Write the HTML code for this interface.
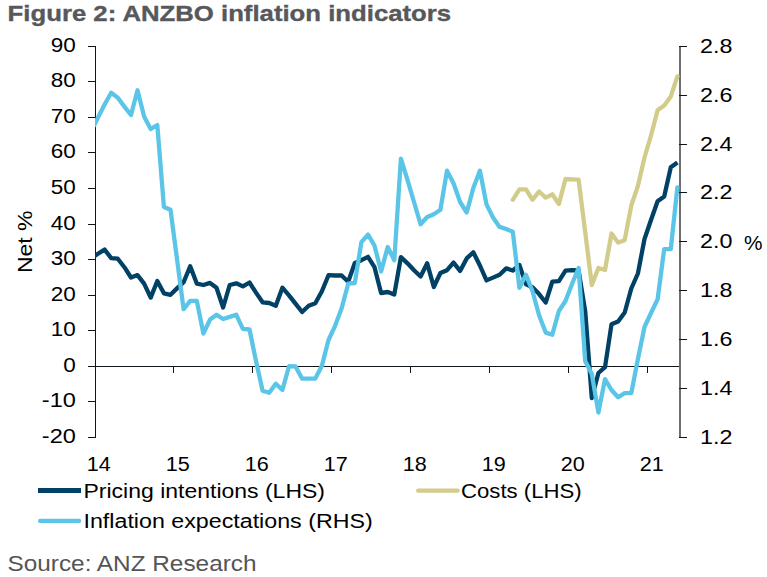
<!DOCTYPE html>
<html><head><meta charset="utf-8"><style>
html,body{margin:0;padding:0;background:#fff;width:767px;height:577px;overflow:hidden}
svg{display:block}
.t{font-family:"Liberation Sans",sans-serif;font-size:20px;fill:#000}
.src{font-family:"Liberation Sans",sans-serif;font-size:21.5px;fill:#555}
.title{font-family:"Liberation Sans",sans-serif;font-size:22px;font-weight:bold;fill:#56585b;stroke:#56585b;stroke-width:0.35px}
</style></head><body>
<svg width="767" height="577" viewBox="0 0 767 577">
<defs><clipPath id="plot"><rect x="95" y="0" width="600" height="577"/></clipPath></defs>
<rect x="95" y="46" width="1" height="392" fill="#0e161c"/>
<rect x="88" y="46" width="8" height="1" fill="#0e161c"/>
<rect x="88" y="81" width="8" height="1" fill="#0e161c"/>
<rect x="88" y="117" width="8" height="1" fill="#0e161c"/>
<rect x="88" y="152" width="8" height="1" fill="#0e161c"/>
<rect x="88" y="188" width="8" height="1" fill="#0e161c"/>
<rect x="88" y="224" width="8" height="1" fill="#0e161c"/>
<rect x="88" y="259" width="8" height="1" fill="#0e161c"/>
<rect x="88" y="295" width="8" height="1" fill="#0e161c"/>
<rect x="88" y="330" width="8" height="1" fill="#0e161c"/>
<rect x="88" y="366" width="8" height="1" fill="#0e161c"/>
<rect x="88" y="401" width="8" height="1" fill="#0e161c"/>
<rect x="88" y="437" width="8" height="1" fill="#0e161c"/>
<rect x="88" y="366" width="591" height="1" fill="#0e161c"/>
<rect x="173" y="366" width="1" height="7" fill="#0e161c"/>
<rect x="252" y="366" width="1" height="7" fill="#0e161c"/>
<rect x="331" y="366" width="1" height="7" fill="#0e161c"/>
<rect x="410" y="366" width="1" height="7" fill="#0e161c"/>
<rect x="489" y="366" width="1" height="7" fill="#0e161c"/>
<rect x="568" y="366" width="1" height="7" fill="#0e161c"/>
<rect x="647" y="366" width="1" height="7" fill="#0e161c"/>
<rect x="679" y="46" width="2" height="392" fill="#6e6e6e"/>
<rect x="679" y="46" width="8" height="1" fill="#0e161c"/>
<rect x="679" y="95" width="8" height="1" fill="#0e161c"/>
<rect x="679" y="144" width="8" height="1" fill="#0e161c"/>
<rect x="679" y="192" width="8" height="1" fill="#0e161c"/>
<rect x="679" y="241" width="8" height="1" fill="#0e161c"/>
<rect x="679" y="290" width="8" height="1" fill="#0e161c"/>
<rect x="679" y="339" width="8" height="1" fill="#0e161c"/>
<rect x="679" y="388" width="8" height="1" fill="#0e161c"/>
<rect x="679" y="437" width="8" height="1" fill="#0e161c"/>
<text x="75.8" y="52.4" class="t" text-anchor="end" textLength="25.0" lengthAdjust="spacingAndGlyphs">90</text>
<text x="75.8" y="87.4" class="t" text-anchor="end" textLength="25.0" lengthAdjust="spacingAndGlyphs">80</text>
<text x="75.8" y="123.4" class="t" text-anchor="end" textLength="25.0" lengthAdjust="spacingAndGlyphs">70</text>
<text x="75.8" y="158.4" class="t" text-anchor="end" textLength="25.0" lengthAdjust="spacingAndGlyphs">60</text>
<text x="75.8" y="194.4" class="t" text-anchor="end" textLength="25.0" lengthAdjust="spacingAndGlyphs">50</text>
<text x="75.8" y="230.4" class="t" text-anchor="end" textLength="25.0" lengthAdjust="spacingAndGlyphs">40</text>
<text x="75.8" y="265.4" class="t" text-anchor="end" textLength="25.0" lengthAdjust="spacingAndGlyphs">30</text>
<text x="75.8" y="301.4" class="t" text-anchor="end" textLength="25.0" lengthAdjust="spacingAndGlyphs">20</text>
<text x="75.8" y="336.4" class="t" text-anchor="end" textLength="25.0" lengthAdjust="spacingAndGlyphs">10</text>
<text x="75.8" y="372.4" class="t" text-anchor="end" textLength="12.5" lengthAdjust="spacingAndGlyphs">0</text>
<text x="75.8" y="407.4" class="t" text-anchor="end" textLength="34.0" lengthAdjust="spacingAndGlyphs">-10</text>
<text x="75.8" y="443.4" class="t" text-anchor="end" textLength="34.0" lengthAdjust="spacingAndGlyphs">-20</text>
<text x="700" y="53.0" class="t" textLength="32.4" lengthAdjust="spacingAndGlyphs">2.8</text>
<text x="700" y="102.0" class="t" textLength="32.4" lengthAdjust="spacingAndGlyphs">2.6</text>
<text x="700" y="151.0" class="t" textLength="32.4" lengthAdjust="spacingAndGlyphs">2.4</text>
<text x="700" y="199.0" class="t" textLength="32.4" lengthAdjust="spacingAndGlyphs">2.2</text>
<text x="700" y="248.0" class="t" textLength="32.4" lengthAdjust="spacingAndGlyphs">2.0</text>
<text x="700" y="297.0" class="t" textLength="32.4" lengthAdjust="spacingAndGlyphs">1.8</text>
<text x="700" y="346.0" class="t" textLength="32.4" lengthAdjust="spacingAndGlyphs">1.6</text>
<text x="700" y="395.0" class="t" textLength="32.4" lengthAdjust="spacingAndGlyphs">1.4</text>
<text x="700" y="444.0" class="t" textLength="32.4" lengthAdjust="spacingAndGlyphs">1.2</text>
<text x="744" y="249.5" class="t" textLength="18.5" lengthAdjust="spacingAndGlyphs">%</text>
<text x="86.8" y="470.6" class="t" textLength="24" lengthAdjust="spacingAndGlyphs">14</text>
<text x="165.8" y="470.6" class="t" textLength="24" lengthAdjust="spacingAndGlyphs">15</text>
<text x="244.8" y="470.6" class="t" textLength="24" lengthAdjust="spacingAndGlyphs">16</text>
<text x="323.8" y="470.6" class="t" textLength="24" lengthAdjust="spacingAndGlyphs">17</text>
<text x="402.8" y="470.6" class="t" textLength="24" lengthAdjust="spacingAndGlyphs">18</text>
<text x="481.8" y="470.6" class="t" textLength="24" lengthAdjust="spacingAndGlyphs">19</text>
<text x="560.8" y="470.6" class="t" textLength="24" lengthAdjust="spacingAndGlyphs">20</text>
<text x="639.8" y="470.6" class="t" textLength="24" lengthAdjust="spacingAndGlyphs">21</text>
<text transform="translate(31.7,273) rotate(-90)" class="t" style="font-size:21px" textLength="62.5" lengthAdjust="spacingAndGlyphs">Net %</text>
<rect x="38" y="488" width="43" height="5" fill="#004165"/>
<line x1="40.2" y1="520.9" x2="79" y2="520.9" stroke="#5bc5e8" stroke-width="4.4" stroke-linecap="round"/>
<line x1="418.2" y1="490.6" x2="457.5" y2="490.6" stroke="#d2cc8a" stroke-width="4.4" stroke-linecap="round"/>
<text x="83.5" y="498" class="t" textLength="241.5" lengthAdjust="spacingAndGlyphs">Pricing intentions (LHS)</text>
<text x="83.5" y="527.5" class="t" textLength="289.2" lengthAdjust="spacingAndGlyphs">Inflation expectations (RHS)</text>
<text x="461" y="498" class="t" textLength="120.7" lengthAdjust="spacingAndGlyphs">Costs (LHS)</text>
<text x="7.5" y="570.6" class="src" textLength="249" lengthAdjust="spacingAndGlyphs">Source: ANZ Research</text>
<text x="7.6" y="21.3" class="title" textLength="443.5" lengthAdjust="spacingAndGlyphs">Figure 2: ANZBO inflation indicators</text>
<polyline points="94.0,256.4 98.0,253.8 104.6,249.6 111.2,258.1 117.8,258.7 124.4,267.2 131.0,277.5 137.5,275.1 144.1,283.6 150.7,297.6 157.3,281.0 163.9,293.3 170.5,294.8 177.0,288.4 183.6,282.2 190.2,266.2 196.8,283.6 203.4,285.0 210.0,282.9 216.5,287.7 223.1,307.5 229.7,285.0 236.3,283.3 242.9,286.4 249.5,282.5 256.0,292.6 262.6,302.3 269.2,303.0 275.8,305.8 282.4,287.7 289.0,295.4 295.5,303.7 302.1,312.0 308.7,305.8 315.3,303.3 321.9,291.3 328.5,275.2 335.0,275.5 341.6,275.5 348.2,281.7 354.8,263.0 361.4,260.2 368.0,256.8 374.5,267.2 381.1,293.0 387.7,292.0 394.3,294.5 400.9,257.2 407.5,263.3 414.0,270.2 420.6,276.5 427.2,263.3 433.8,287.0 440.4,273.0 447.0,270.2 453.5,262.6 460.1,270.9 466.7,258.4 473.3,252.2 479.9,265.5 486.5,280.4 493.0,277.6 499.6,274.7 506.2,268.4 512.8,270.5 519.4,265.0 526.0,284.4 532.5,287.2 539.1,294.1 545.7,302.5 552.3,281.6 558.9,281.1 565.5,270.7 572.0,270.2 578.6,270.5 585.2,311.0 591.8,398.0 598.4,373.0 605.0,367.2 611.5,324.3 618.1,321.5 624.7,312.5 631.3,288.5 637.9,273.5 644.5,239.0 651.0,220.0 657.6,201.2 664.2,196.4 670.8,167.3 677.4,162.5" fill="none" stroke="#004165" stroke-width="4.3" stroke-linejoin="round" stroke-linecap="butt" clip-path="url(#plot)"/>
<polyline points="512.8,199.8 519.4,189.4 526.0,189.4 532.5,199.8 539.1,191.5 545.7,197.7 552.3,194.3 558.9,204.0 565.5,179.0 572.0,179.3 578.6,179.6 585.2,232.0 591.8,285.0 598.4,268.0 605.0,270.0 611.5,233.5 618.1,242.5 624.7,240.2 631.3,205.5 637.9,186.0 644.5,157.5 651.0,135.5 657.6,110.3 664.2,105.5 670.8,96.4 677.4,76.4" fill="none" stroke="#d2cc8a" stroke-width="4.3" stroke-linejoin="round" stroke-linecap="round"/>
<polyline points="94.0,125.5 98.0,117.5 104.6,104.5 111.2,92.8 117.8,97.7 124.4,106.6 131.0,115.0 137.5,90.3 144.1,116.5 150.7,129.0 157.3,125.0 163.9,206.9 170.5,209.7 177.0,259.0 183.6,309.2 190.2,300.9 196.8,300.9 203.4,333.5 210.0,319.6 216.5,314.8 223.1,319.0 229.7,316.9 236.3,314.8 242.9,328.8 249.5,329.5 256.0,361.0 262.6,390.7 269.2,392.8 275.8,383.8 282.4,390.0 289.0,366.2 295.5,366.5 302.1,378.6 308.7,378.6 315.3,378.6 321.9,365.8 328.5,340.0 335.0,326.1 341.6,308.5 348.2,283.7 354.8,283.0 361.4,242.2 368.0,234.6 374.5,245.7 381.1,271.5 387.7,247.0 394.3,260.2 400.9,158.7 407.5,180.0 414.0,202.0 420.6,224.3 427.2,217.0 433.8,214.2 440.4,209.8 447.0,170.7 453.5,183.3 460.1,202.0 466.7,212.5 473.3,188.1 479.9,170.7 486.5,204.4 493.0,217.5 499.6,226.9 506.2,229.0 512.8,231.7 519.4,287.8 526.0,274.8 532.5,291.3 539.1,315.3 545.7,332.6 552.3,334.7 558.9,311.0 565.5,301.0 572.0,284.0 578.6,268.0 585.2,361.0 591.8,374.0 598.4,412.5 605.0,379.1 611.5,390.0 618.1,397.3 624.7,393.1 631.3,393.1 637.9,359.0 644.5,327.0 651.0,313.0 657.6,299.4 664.2,249.1 670.8,249.1 677.4,187.3" fill="none" stroke="#5bc5e8" stroke-width="4.3" stroke-linejoin="round" stroke-linecap="round" clip-path="url(#plot)"/>
</svg></body></html>
